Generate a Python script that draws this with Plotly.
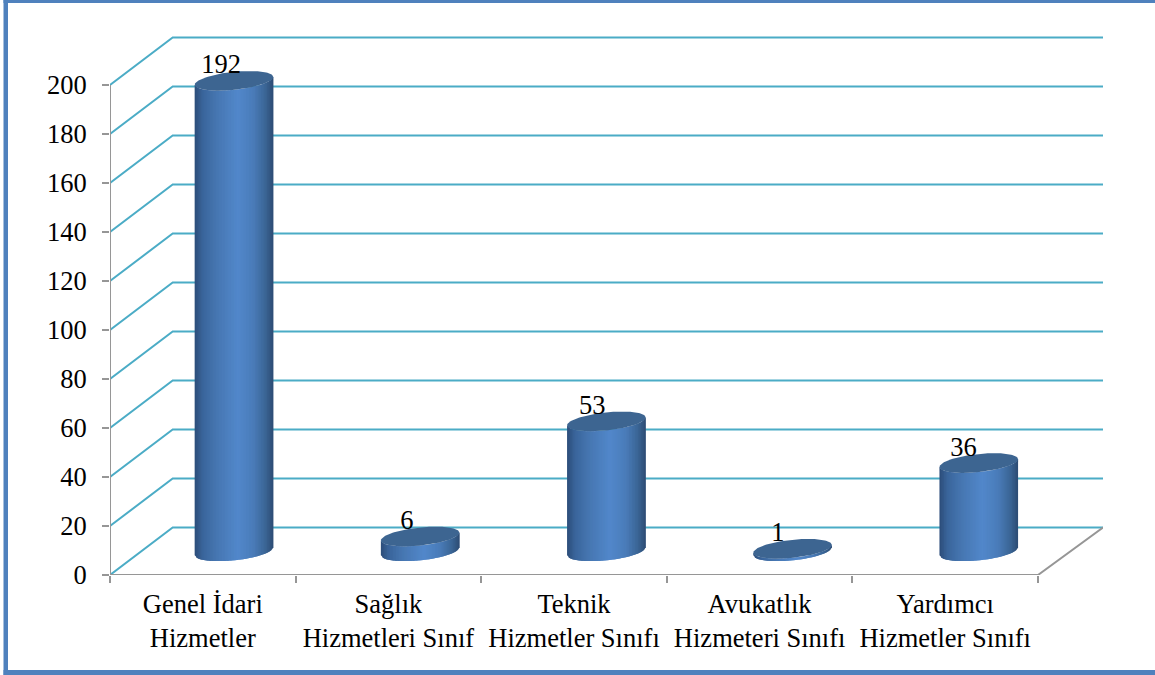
import numpy as np
import plotly.graph_objects as go

categories = ["Genel İdari<br>Hizmetler", "Sağlık<br>Hizmetleri Sınıf", "Teknik<br>Hizmetler Sınıfı",
              "Avukatlık<br>Hizmeteri Sınıfı", "Yardımcı<br>Hizmetler Sınıfı"]
values = [192, 6, 53, 1, 36]
y_ticks = list(range(0, 201, 20))

W, H = 1155, 675
L, R, T, B = 110, 52, 20, 100
CAT_PX = 185.6
VAL_PX = 2.45
PITCH = 186.2 / CAT_PX      # cylinders sit slightly wider apart than the front axis ticks
x_max = (W - L - R) / CAT_PX
y_max = (H - T - B) / VAL_PX
DX = 62.7 / CAT_PX          # depth shift, category units
DY = 47.5 / VAL_PX          # depth shift, value units
GRID = "#4BACC6"
AXIS = "#969696"
FONT = "Liberation Serif"
FS = 26.5

fig = go.Figure()

# left wall and back wall grid lines, from the axis values
gx, gy = [], []
for v in y_ticks:
    gx += [0, DX, x_max, None]
    gy += [v, v + DY, v + DY, None]
fig.add_trace(go.Scatter(x=gx, y=gy, mode="lines", line=dict(color=GRID, width=2),
                         hoverinfo="skip", cliponaxis=False))
# axes and floor edge
fig.add_trace(go.Scatter(x=[0, 0, None, 0, len(values), x_max], y=[y_ticks[-1], 0, None, 0, 0, DY], mode="lines",
                         line=dict(color=AXIS, width=2), hoverinfo="skip", cliponaxis=False))

# cylinders
A, Bb, TH = 39.5, 9.0, np.radians(6)
stops = [(0, "#2c4d79"), (0.10, "#3a659b"), (0.28, "#4777b2"), (0.55, "#5288cb"),
         (0.75, "#4a7cb9"), (0.90, "#3b6696"), (1, "#2d4c74")]
pos = [s[0] for s in stops]
rgb = np.array([[int(s[1][i:i + 2], 16) for i in (1, 3, 5)] for s in stops], float)
tmax = np.arctan2(-Bb * np.sin(TH), A * np.cos(TH))
Xext = A * np.cos(tmax) * np.cos(TH) - Bb * np.sin(tmax) * np.sin(TH)
arc = np.linspace(tmax - np.pi, tmax, 200)
arc_x = A * np.cos(arc) * np.cos(TH) - Bb * np.sin(arc) * np.sin(TH)
arc_y = A * np.cos(arc) * np.sin(TH) + Bb * np.sin(arc) * np.cos(TH)
N = 52
edges = np.linspace(-Xext, Xext, N + 1)
low = np.interp(edges, arc_x, arc_y)
tt = np.linspace(0, 2 * np.pi, 120)
cap_x = A * np.cos(tt) * np.cos(TH) - Bb * np.sin(tt) * np.sin(TH)
cap_y = A * np.cos(tt) * np.sin(TH) + Bb * np.sin(tt) * np.cos(TH)

for i, v in enumerate(values):
    cx = (i + 0.5) * PITCH + DX / 2 - 0.5 / CAT_PX
    base = DY / 2
    # strips, overlapping slightly so no seams appear
    for k in range(N):
        f = (k + 0.5) / N
        col = [np.interp(f, pos, rgb[:, c]) for c in range(3)]
        c = "rgb(%d,%d,%d)" % tuple(col)
        e1 = min(k + 2, N)
        xs = [cx + edges[k] / CAT_PX, cx + edges[e1] / CAT_PX, cx + edges[e1] / CAT_PX, cx + edges[k] / CAT_PX, cx + edges[k] / CAT_PX]
        ys = [base + low[k] / VAL_PX, base + low[e1] / VAL_PX, base + v + low[e1] / VAL_PX,
              base + v + low[k] / VAL_PX, base + low[k] / VAL_PX]
        fig.add_trace(go.Scatter(x=xs, y=ys, mode="lines", fill="toself", fillcolor=c,
                                 line=dict(width=0), hoverinfo="skip", cliponaxis=False))
    fig.add_trace(go.Scatter(x=cx + cap_x / CAT_PX, y=base + v + cap_y / VAL_PX, mode="lines",
                             fill="toself", fillcolor="#3d6591", line=dict(width=0),
                             hoverinfo="skip", cliponaxis=False))

# value labels
fig.add_trace(go.Scatter(
    x=[i + 0.5 + DX / 2 - 13 / CAT_PX for i in range(len(values))],
    y=[v + DY / 2 + 14 / VAL_PX for v in values],
    text=[str(v) for v in values], mode="text", textposition="middle center",
    textfont=dict(family=FONT, size=FS, color="black"), hoverinfo="skip", cliponaxis=False))

# picture frame
def px(x): return (x - L) / (W - L - R)
def py(y): return 1 - (y - T) / (H - T - B)
frame = [(3.5, 0, 8, H), (3.5, 0, W, 3), (3.5, 670, W, H)]
shapes = [dict(type="rect", xref="paper", yref="paper", x0=px(a), x1=px(c), y0=py(b), y1=py(d),
               line=dict(width=0), fillcolor="#4F81BD", layer="above") for a, b, c, d in frame]

fig.update_layout(
    width=W, height=H, margin=dict(l=L, r=R, t=T, b=B, autoexpand=False),
    paper_bgcolor="white", plot_bgcolor="white", showlegend=False, shapes=shapes,
    font=dict(family=FONT, size=FS, color="black"),
    xaxis=dict(range=[0, x_max], tickmode="array", tickvals=[i + 0.5 for i in range(len(values))],
               ticktext=categories, ticks="", showgrid=False, zeroline=False,
               tickfont=dict(family=FONT, size=FS, color="black"),
               showline=False, ticklabelstandoff=10,
               minor=dict(tickmode="array", tickvals=list(range(len(values) + 1)), ticks="outside",
                          ticklen=7, tickwidth=2, tickcolor=AXIS, showgrid=False)),
    yaxis=dict(range=[0, y_max], tickmode="array", tickvals=y_ticks, ticks="outside", ticklen=7,
               tickwidth=2, tickcolor=AXIS, showline=False,
               showgrid=False, zeroline=False, ticklabelstandoff=10,
               tickfont=dict(family=FONT, size=FS, color="black")),
)
fig.write_html("out.html", config={"displayModeBar": False},
               post_script="document.body.style.margin='0';document.documentElement.style.overflow='hidden';")
